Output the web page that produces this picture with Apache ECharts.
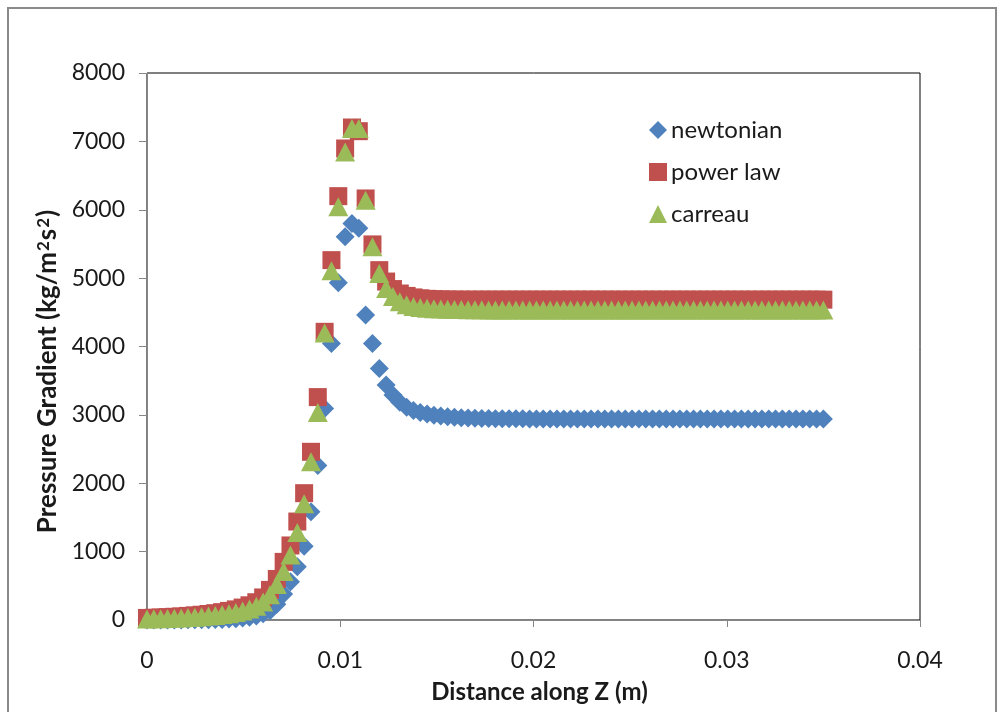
<!DOCTYPE html>
<html>
<head>
<meta charset="utf-8">
<script src="https://cdn.jsdelivr.net/npm/echarts@6/dist/echarts.min.js"></script>
<style>
html,body{margin:0;padding:0;background:#fff;}
#chart{width:1001px;height:712px;}
</style>
</head>
<body>
<div id="chart"></div>
<script>
// Distance along Z (m)
const distance = [
0, 0.000354, 0.000707, 0.001061, 0.001414, 0.001768, 0.002121, 0.002475, 0.002828, 0.003182,
0.003535, 0.003889, 0.004242, 0.004596, 0.004949, 0.005303, 0.005657, 0.006010, 0.006364, 0.006717,
0.007071, 0.007424, 0.007778, 0.008131, 0.008485, 0.008838, 0.009192, 0.009545, 0.009899, 0.010253,
0.010606, 0.010960, 0.011313, 0.011667, 0.012020, 0.012374, 0.012727, 0.013081, 0.013434, 0.013788,
0.014141, 0.014495, 0.014848, 0.015202, 0.015556, 0.015909, 0.016263, 0.016616, 0.016970, 0.017323,
0.017677, 0.018030, 0.018384, 0.018737, 0.019091, 0.019444, 0.019798, 0.020152, 0.020505, 0.020859,
0.021212, 0.021566, 0.021919, 0.022273, 0.022626, 0.022980, 0.023333, 0.023687, 0.024040, 0.024394,
0.024747, 0.025101, 0.025455, 0.025808, 0.026162, 0.026515, 0.026869, 0.027222, 0.027576, 0.027929,
0.028283, 0.028636, 0.028990, 0.029343, 0.029697, 0.030051, 0.030404, 0.030758, 0.031111, 0.031465,
0.031818, 0.032172, 0.032525, 0.032879, 0.033232, 0.033586, 0.033939, 0.034293, 0.034646, 0.035000
];
const newtonian = [
0, 0, 0, 0, 1, 1, 2, 3, 4, 5,
7, 9, 13, 20, 30, 42, 60, 90, 135, 230,
380, 560, 780, 1080, 1583, 2260, 3095, 4045, 4931, 5604,
5800, 5730, 4459, 4045, 3680, 3436, 3290, 3185, 3110, 3065,
3035, 3012, 2995, 2982, 2972, 2964, 2958, 2953, 2950, 2948,
2946, 2945, 2944, 2943, 2942, 2942, 2941, 2941, 2940, 2940,
2940, 2940, 2940, 2940, 2940, 2940, 2940, 2940, 2940, 2940,
2940, 2940, 2940, 2940, 2940, 2940, 2940, 2940, 2940, 2940,
2940, 2940, 2940, 2940, 2940, 2940, 2940, 2940, 2940, 2940,
2940, 2940, 2940, 2940, 2940, 2940, 2940, 2940, 2940, 2940
];
const powerLaw = [
30, 33, 37, 42, 47, 53, 60, 68, 77, 88,
100, 115, 133, 155, 182, 215, 260, 330, 440, 600,
850, 1090, 1440, 1855, 2460, 3260, 4215, 5263, 6199, 6896,
7203, 7149, 6165, 5493, 5117, 4950, 4840, 4775, 4740, 4718,
4705, 4697, 4692, 4689, 4687, 4686, 4685, 4685, 4685, 4685,
4685, 4685, 4685, 4685, 4685, 4685, 4685, 4685, 4685, 4685,
4685, 4685, 4685, 4685, 4685, 4685, 4685, 4685, 4685, 4685,
4685, 4685, 4685, 4685, 4685, 4685, 4685, 4685, 4685, 4685,
4685, 4685, 4685, 4685, 4685, 4685, 4685, 4685, 4685, 4685,
4685, 4685, 4685, 4685, 4685, 4685, 4685, 4685, 4685, 4685
];
const carreau = [
15, 17, 20, 23, 27, 31, 36, 42, 49, 57,
67, 79, 93, 110, 132, 160, 200, 265, 370, 520,
710, 950, 1280, 1700, 2314, 3035, 4196, 5107, 6043, 6846,
7188, 7188, 6140, 5458, 5069, 4850, 4730, 4655, 4610, 4585,
4570, 4560, 4553, 4548, 4545, 4542, 4540, 4538, 4537, 4536,
4535, 4535, 4535, 4535, 4535, 4535, 4535, 4535, 4535, 4535,
4535, 4535, 4535, 4535, 4535, 4535, 4535, 4535, 4535, 4535,
4535, 4535, 4535, 4535, 4535, 4535, 4535, 4535, 4535, 4535,
4535, 4535, 4535, 4535, 4535, 4535, 4535, 4535, 4535, 4535,
4535, 4535, 4535, 4535, 4535, 4535, 4535, 4535, 4535, 4535
];
const seriesNames = ['newtonian', 'power law', 'carreau'];
const xTitle = 'Distance along Z (m)';
// y title: "Pressure Gradient (kg/m²s²)" with superscripts as rich text
const yTitle = 'Pressure Gradient (kg/m{sup|2}s{sup|2})';

function pairs(ys){ return distance.map((x,i)=>[x, ys[i]]); }

const FONT = 'Lato';
const chart = echarts.init(document.getElementById('chart'), null, {renderer:'canvas'});
chart.setOption({
  animation: false,
  backgroundColor: '#fff',
  textStyle: {fontFamily: FONT},
  graphic: [{
    type: 'rect', silent: true, z: -1,
    shape: {x: 8, y: 8, width: 988, height: 730},
    style: {fill: 'none', stroke: '#8a8a8a', lineWidth: 2}
  }],
  grid: {left: 147, right: 81, top: 73, bottom: 92, show: true, borderColor: '#000', borderWidth: 1, backgroundColor: 'transparent'},
  legend: {
    orient: 'vertical', left: 649, top: 118, padding: 0, itemGap: 18, itemWidth: 18, itemHeight: 18,
    data: seriesNames,
    textStyle: {fontFamily: FONT, fontSize: 24, color: '#1a1a1a', lineHeight: 24, padding: [0,0,0,-1]}
  },
  xAxis: {
    type: 'value', min: 0, max: 0.04, interval: 0.01,
    name: xTitle, nameLocation: 'middle', nameGap: 60,
    nameTextStyle: {fontFamily: FONT, fontSize: 24, fontWeight: 'bold', color: '#1a1a1a', padding: [0,0,0,12]},
    axisLine: {show: true, lineStyle: {color: '#868686', width: 1}},
    axisTick: {show: true, inside: false, length: 7, lineStyle: {color: '#868686'}},
    axisLabel: {fontFamily: FONT, fontSize: 23, color: '#1a1a1a', margin: 29},
    splitLine: {show: false}
  },
  yAxis: {
    type: 'value', min: 0, max: 8000, interval: 1000,
    name: yTitle, nameLocation: 'middle', nameGap: 86,
    nameTextStyle: {fontFamily: FONT, fontSize: 26, fontWeight: 'bold', color: '#1a1a1a', padding: [0, 50, 0, 0],
      rich: {sup: {fontFamily: FONT, fontSize: 17, fontWeight: 'bold', color: '#1a1a1a', verticalAlign: 'top', padding: [0,1,8,1]}}},
    axisLine: {show: true, lineStyle: {color: '#868686', width: 1}},
    axisTick: {show: true, inside: false, length: 8, lineStyle: {color: '#868686'}},
    axisLabel: {fontFamily: FONT, fontSize: 23, color: '#1a1a1a', margin: 22, formatter: (v)=>String(v)},
    splitLine: {show: false}
  },
  series: [
    {name: seriesNames[0], type: 'scatter', symbol: 'diamond', symbolSize: 19, data: pairs(newtonian), itemStyle: {color: '#4F81BD', opacity: 1}, z: 2},
    {name: seriesNames[1], type: 'scatter', symbol: 'rect', symbolSize: 18, data: pairs(powerLaw), itemStyle: {color: '#C0504D', opacity: 1}, z: 3},
    {name: seriesNames[2], type: 'scatter', symbol: 'triangle', symbolSize: [20, 19], data: pairs(carreau), itemStyle: {color: '#9BBB59', opacity: 1}, z: 4}
  ]
});
</script>
</body>
</html>
